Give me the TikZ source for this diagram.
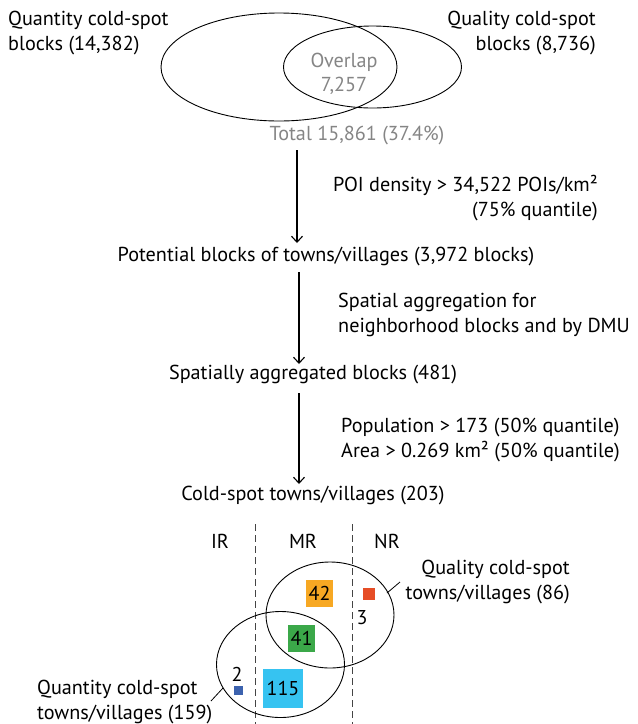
\documentclass[tikz,border=0pt]{standalone}
\usepackage{fontspec}
\setmainfont{PT Sans}
\usetikzlibrary{arrows.meta}
\definecolor{graytxt}{HTML}{858585}
\definecolor{boxorange}{HTML}{F7A823}
\definecolor{boxgreen}{HTML}{3BA849}
\definecolor{boxcyan}{HTML}{36C3F1}
\definecolor{boxblue}{HTML}{3C62AE}
\definecolor{boxred}{HTML}{E64D26}
\definecolor{dashgray}{HTML}{444444}
\tikzset{
  lbl/.style={inner sep=0pt, font=\fontsize{20.2}{25.5}\selectfont},
  flowarrow/.style={line width=1.1pt, -{Straight Barb[length=6pt,width=11pt,line width=1.1pt]}},
  venn/.style={line width=0.9pt},
  region/.style={dashgray, line width=1pt, dash pattern=on 7pt off 4pt},
  numbox/.style={inner sep=0pt, font=\fontsize{20}{24}\selectfont},
  leader/.style={line width=0.8pt}
}
\begin{document}
\begin{tikzpicture}[x=1pt,y=-1pt]
\useasboundingbox (0,0) rectangle (638,724);
% top Venn
\draw[venn] (279,67) ellipse [x radius=118, y radius=54];
\draw[venn] (372.5,67) ellipse [x radius=89, y radius=41];
\node[lbl, anchor=west, align=left] (qtop) at (8,33) {Quantity cold-spot\\blocks (14,382)};
\node[lbl, anchor=east, align=right] (qltop) at (596,33) {Quality cold-spot\\blocks (8,736)};
\node[lbl, graytxt, align=center, font=\fontsize{20.2}{24}\selectfont] (overlap) at (344,74) {Overlap\\7,257};
\node[lbl, graytxt] (total) at (357,136) {Total 15,861 (37.4\%)};
% flow
\coordinate (a1s) at (297,150);
\node[lbl] (pot) at (326,257) {Potential blocks of towns/villages (3,972 blocks)};
\coordinate (a1e) at (297,243);
\draw[flowarrow] (a1s) -- (a1e);
\node[lbl, anchor=east, align=right] (poi) at (598,198) {POI density > 34,522 POIs/km²\\(75\% quantile)};
\node[lbl] (agg) at (313,375) {Spatially aggregated blocks (481)};
\coordinate (a2s) at (299,272);
\coordinate (a2e) at (299,364);
\draw[flowarrow] (a2s) -- (a2e);
\node[lbl, anchor=west, align=left] (spat) at (338,315) {Spatial aggregation for\\neighborhood blocks and by DMU};
\node[lbl] (cold) at (313,496) {Cold-spot towns/villages (203)};
\coordinate (a3s) at (299,393);
\coordinate (a3e) at (299,484);
\draw[flowarrow] (a3s) -- (a3e);
\node[lbl, anchor=west, align=left] (pop) at (341,440) {Population > 173 (50\% quantile)\\Area > 0.269 km² (50\% quantile)};
% regions
\node[lbl] (ir) at (220,541) {IR};
\node[lbl] (mr) at (303,541) {MR};
\node[lbl] (nr) at (387,541) {NR};
\coordinate (d1t) at (255,524);
\coordinate (d1b) at (255,724);
\coordinate (d2t) at (352,524);
\coordinate (d2b) at (352,724);
\draw[region] (d1t) -- (d1b);
\draw[region] (d2t) -- (d2b);
% bottom Venn
\draw[venn] (330,615) ellipse [x radius=64, y radius=53];
\draw[venn] (280.5,664.5) ellipse [x radius=64, y radius=53];
\node[numbox, fill=boxorange, minimum width=27pt, minimum height=27pt] (b42) at (319.5,593.5) {42};
\node[numbox, fill=boxgreen, minimum width=27pt, minimum height=27pt] (b41) at (301.5,638.5) {41};
\node[numbox, fill=boxcyan, minimum width=40pt, minimum height=39pt] (b115) at (283,688.5) {115};
\node[inner sep=0pt, fill=boxblue, minimum size=9pt] (b2) at (238.5,690) {};
\node[inner sep=0pt, fill=boxred, minimum size=12pt] (b3) at (369,593.5) {};
\node[numbox] (n2) at (237,674) {2};
\node[numbox] (n3) at (362,618) {3};
\node[lbl, anchor=east, align=right] (qlbot) at (570,582) {Quality cold-spot\\towns/villages (86)};
\coordinate (l1a) at (387,593);
\coordinate (l1b) at (400,582);
\draw[leader] (l1a) -- (l1b);
\node[lbl, anchor=west, align=left] (qbot) at (37,702) {Quantity cold-spot\\towns/villages (159)};
\coordinate (l2a) at (211,701);
\coordinate (l2b) at (223,688);
\draw[leader] (l2a) -- (l2b);
\end{tikzpicture}
\end{document}
